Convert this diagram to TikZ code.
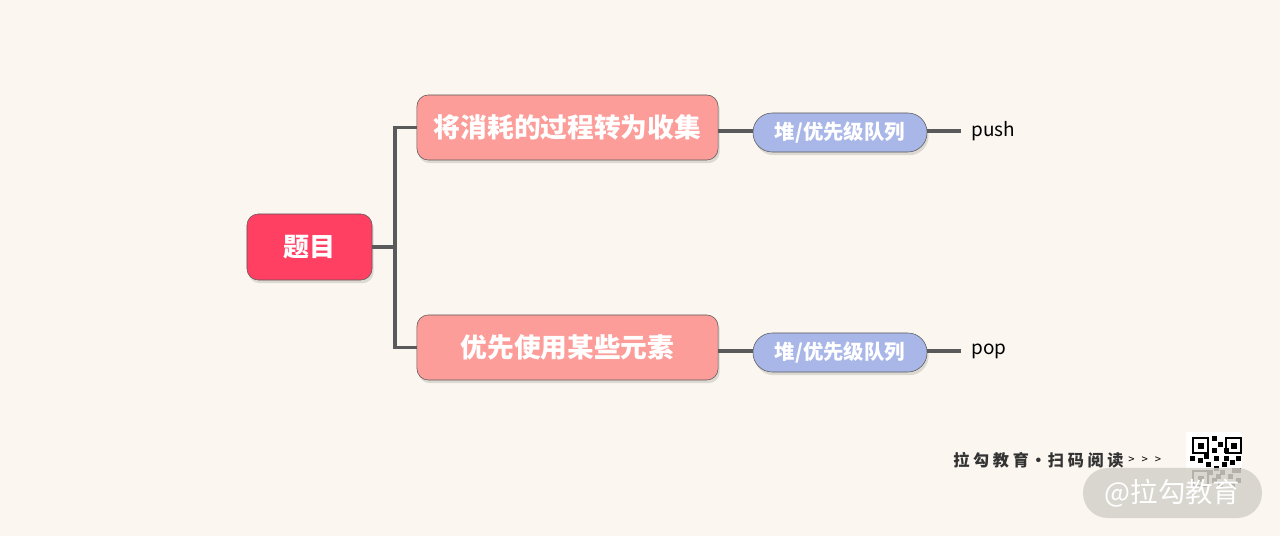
\documentclass[tikz,border=0pt]{standalone}
\usepackage{fontspec}
\setmainfont{Noto Sans CJK SC}
\usepackage{xcolor}
\usetikzlibrary{positioning,shadows}

\definecolor{paper}{RGB}{251,247,240}
\definecolor{rootred}{RGB}{255,64,98}
\definecolor{topicpink}{RGB}{252,157,153}
\definecolor{leafblue}{RGB}{168,182,232}
\definecolor{edgegrey}{RGB}{90,90,90}
\definecolor{markgrey}{RGB}{212,209,202}

\begin{document}
\begin{tikzpicture}[x=0.025cm, y=-0.025cm,
  root/.style={draw=edgegrey, fill=rootred, rounded corners=8pt, minimum width=3.125cm, minimum height=1.65cm,
    text=white, font=\fontsize{18.5}{22}\selectfont\bfseries,
    drop shadow={opacity=0.25, shadow xshift=0.04cm, shadow yshift=-0.08cm}},
  topic/.style={draw=edgegrey, fill=topicpink, rounded corners=8pt, minimum width=7.525cm, minimum height=1.625cm,
    text=white, font=\fontsize{19}{22}\selectfont\bfseries,
    drop shadow={opacity=0.25, shadow xshift=0.04cm, shadow yshift=-0.08cm}},
  leaf/.style={draw=edgegrey, fill=leafblue, rounded corners=0.48cm, minimum width=4.35cm, minimum height=0.975cm,
    text=white, font=\fontsize{14.5}{17}\selectfont\bfseries,
    drop shadow={opacity=0.25, shadow xshift=0.04cm, shadow yshift=-0.08cm}},
  word/.style={anchor=west, inner sep=0pt, text=black, font=\fontsize{13.5}{16}\selectfont},
  link/.style={draw=edgegrey, line width=2.2pt}
]
% page
\fill[paper] (0,0) rectangle (1280,536);
\useasboundingbox (0,0) rectangle (1280,536);

% nodes
\node[root] (q) at (309.5,247) {题目};
\node[topic] (t1) at (567.5,127.5) {将消耗的过程转为收集};
\node[topic] (t2) at (567.5,347.5) {优先使用某些元素};
\node[leaf] (h1) at (840,132.5) {堆/优先级队列};
\node[leaf] (h2) at (840,352.5) {堆/优先级队列};
\node[word] (push) at (971,131) {push};
\node[word] (pop) at (971,351) {pop};

% links
\coordinate (fork) at (395,247);
\draw[link] (q.east) -- (fork);
\draw[link] (fork) |- (t1.west);
\draw[link] (fork) |- (t2.west);
\draw[link] (t1.east |- push) -- (h1.west |- push);
\draw[link] (t2.east |- pop) -- (h2.west |- pop);
\draw[link] (h1.east |- push) -- ([xshift=-0.25cm]push.west);
\draw[link] (h2.east |- pop) -- ([xshift=-0.25cm]pop.west);

% footer mark
\node[anchor=west, inner sep=0pt, text=black!80, font=\fontsize{11.5}{14}\selectfont\bfseries] (mark) at (953,460)
  {拉\hspace{2.6pt}勾\hspace{2.6pt}教\hspace{2.6pt}育\hspace{1pt}·\hspace{1pt}扫\hspace{2.6pt}码\hspace{2.6pt}阅\hspace{2.6pt}读};
\node[right=3pt of mark, inner sep=0pt, font=\fontsize{8}{10}\selectfont] (more) {>\hspace{5pt}>\hspace{5pt}>};
\node[fill=white, minimum width=1.4cm, minimum height=1.4cm, inner sep=0pt] (qr) at (1214,460) {};
\foreach \cx/\cy in {1193/438, 1226/438, 1193/471} {
  \draw[black, line width=1.3pt] (\cx,\cy) rectangle ++(15,15);
  \fill[black] (\cx+4.5,\cy+4.5) rectangle ++(6,6);
}
\foreach \bx/\by in {1212/436,1218/442,1212/448,1224/456,1230/460,1198/458,1206/462,1214/466,1220/470,
  1228/474,1236/468,1212/478,1218/482,1230/482,1236/478,1204/454,1222/462,1236/456,1214/456,
  1190/456,1208/470,1224/448,1216/474,1232/468}
  \fill[black] (\bx,\by) rectangle ++(5,5);
\node[fill=markgrey, fill opacity=0.85, text opacity=1, text=white, rounded corners=0.62cm,
  minimum width=4.475cm, minimum height=1.25cm, font=\fontsize{19.5}{22}\selectfont] (tag) at (1172.5,493) {@拉勾教育};
\end{tikzpicture}
\end{document}
